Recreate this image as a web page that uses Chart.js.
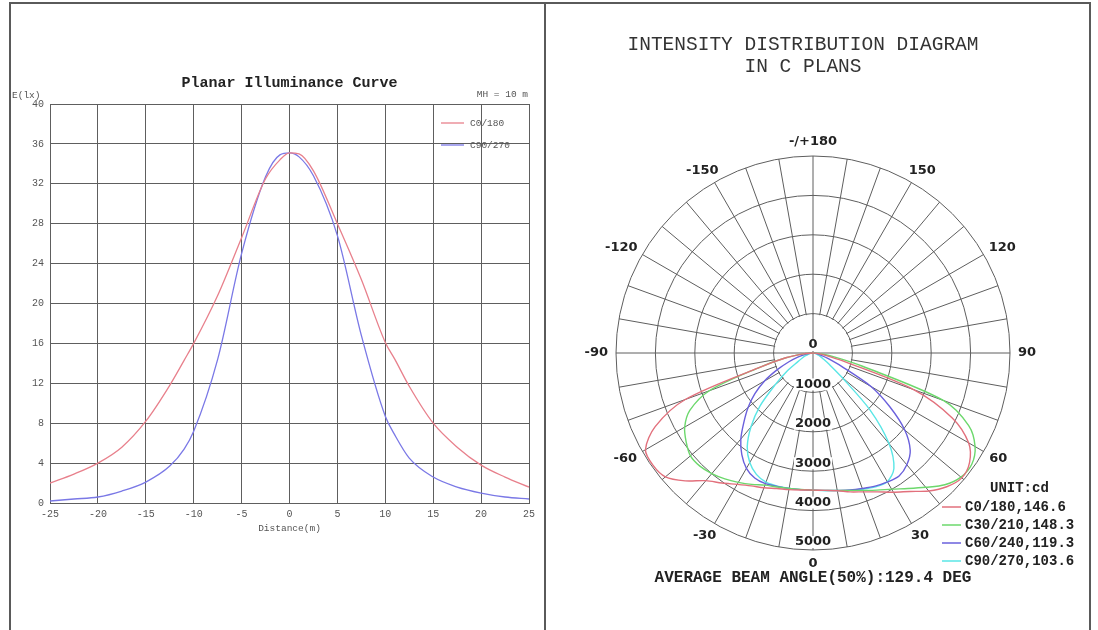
<!DOCTYPE html>
<html>
<head>
<meta charset="utf-8">
<title>Photometric curves</title>
<script src="https://cdn.jsdelivr.net/npm/chart.js@4.4.1/dist/chart.umd.min.js"></script>
<style>
  html, body { margin: 0; padding: 0; background: #fff; }
  #page { position: relative; width: 1098px; height: 630px; overflow: hidden; background: #fff; }
  canvas { position: absolute; top: 0; }
  #illum { left: 0; width: 548px; height: 630px; }
  #polar { left: 548px; width: 542px; height: 630px; }
  .frame { position: absolute; background: #5a5a5a; }
</style>
</head>
<body>
<div id="page">
  <canvas id="illum" width="548" height="630"></canvas>
  <canvas id="polar" width="542" height="630"></canvas>
  <div class="frame" style="left:9px;top:2px;width:1082px;height:2px"></div>
  <div class="frame" style="left:9px;top:2px;width:2px;height:640px"></div>
  <div class="frame" style="left:544px;top:2px;width:2px;height:640px"></div>
  <div class="frame" style="left:1089px;top:2px;width:2px;height:640px"></div>
</div>
<script>
// ---- Planar illuminance curve (E in lx against distance in m) ----
const distances = [-25, -22.5, -20, -17.5, -15, -12.5, -11, -10, -7.5, -5, -2.5, -1, 0, 1, 2.5, 5, 7.5, 10, 11, 12.5, 15, 17.5, 20, 22.5, 25];
const luxC0180 = [2.0, 2.9, 4.0, 5.6, 8.2, 11.8, 14.3, 16.0, 20.8, 26.6, 32.5, 34.4, 35.1, 35.0, 33.3, 28.0, 22.4, 16.1, 14.4, 11.7, 8.0, 5.6, 3.8, 2.6, 1.6];
const luxC90270 = [0.2, 0.4, 0.6, 1.2, 2.1, 3.7, 5.4, 7.2, 14.4, 25.0, 32.7, 34.9, 35.1, 34.7, 32.8, 26.8, 16.8, 8.7, 6.8, 4.5, 2.6, 1.6, 1.0, 0.6, 0.4];
const illumLabels = ['C0/180', 'C90/270'];
const illumColors = ['#e8808c', '#7a78e6'];

// ---- Intensity distribution in C planes (cd), gamma 0..90 step 5 ----
const gammaAngles = [0, 5, 10, 15, 20, 25, 30, 35, 40, 45, 50, 55, 60, 65, 70, 75, 80, 85, 90];
const c0   = [3480, 3500, 3550, 3650, 3750, 3890, 4080, 4290, 4570, 4800, 4930, 4850, 4560, 3900, 2730, 800, 300, 100, 0];
const c180 = [3470, 3490, 3520, 3560, 3640, 3720, 3850, 4030, 4230, 4590, 4890, 4960, 4910, 4420, 3450, 1400, 700, 250, 0];
const c30  = [3480, 3500, 3540, 3610, 3710, 3840, 3990, 4200, 4450, 4730, 4900, 4920, 4750, 4360, 3520, 1300, 500, 150, 0];
const c210 = [3470, 3475, 3490, 3520, 3570, 3680, 3790, 3900, 3995, 4060, 4060, 3930, 3760, 3450, 2800, 1400, 700, 250, 0];
const c60  = [3480, 3500, 3540, 3600, 3660, 3730, 3780, 3810, 3705, 3490, 3040, 2380, 1700, 800, 400, 200, 100, 50, 0];
const c240 = [3470, 3480, 3490, 3505, 3530, 3500, 3380, 3150, 2850, 2480, 2150, 1800, 1420, 1000, 650, 400, 200, 80, 0];
const c90  = [3480, 3510, 3550, 3610, 3680, 3750, 3770, 3580, 3000, 2050, 950, 500, 300, 200, 120, 80, 50, 20, 0];
const c270 = [3470, 3480, 3490, 3500, 3490, 3400, 3210, 2910, 2450, 1900, 1250, 800, 450, 300, 200, 120, 80, 30, 0];
const planeNames = ['C0/180', 'C30/210', 'C60/240', 'C90/270'];
const beamAngles = [146.6, 148.3, 119.3, 103.6];
const planeColors = ['#e2707c', '#6cd86c', '#6a60dc', '#5ae6e6'];
const ringValues = [0, 1000, 2000, 3000, 4000, 5000];
const angleLabels = [0, 30, 60, 90, 120, 150, 180, -150, -120, -90, -60, -30];

const MONO = '"Liberation Mono", "DejaVu Sans Mono", monospace';
const SANS = '"DejaVu Sans", sans-serif';
const GRID = '#5e5e5e';

// text around the illuminance plot
const illumText = {
    id: 'illumText',
    afterDraw(chart) {
        const ctx = chart.ctx;
        const area = chart.chartArea;
        const mid = (area.left + area.right) / 2;
        ctx.save();
        ctx.textBaseline = 'middle';
        ctx.fillStyle = '#222';
        ctx.textAlign = 'center';
        ctx.font = 'bold 15px ' + MONO;
        ctx.fillText('Planar Illuminance Curve', mid, 83);
        ctx.fillStyle = '#555';
        ctx.font = '9.5px ' + MONO;
        ctx.fillText('Distance(m)', mid, 528);
        ctx.textAlign = 'left';
        ctx.fillText('E(lx)', 12, 95);
        ctx.textAlign = 'right';
        ctx.fillText('MH = 10 m', area.right - 1, 94);

        // legend inside the plot
        ctx.textAlign = 'left';
        chart.data.datasets.forEach((ds, i) => {
            const y = area.top + 19 + i * 22;
            ctx.strokeStyle = ds.borderColor;
            ctx.lineWidth = 1.3;
            ctx.beginPath();
            ctx.moveTo(area.right - 88, y);
            ctx.lineTo(area.right - 65, y);
            ctx.stroke();
            ctx.fillStyle = '#555';
            ctx.fillText(ds.label, area.right - 59, y);
        });
        ctx.restore();
    }
};

new Chart(document.getElementById('illum'), {
    type: 'line',
    data: {
        datasets: [luxC0180, luxC90270].map((vals, i) => ({
            label: illumLabels[i],
            data: distances.map((d, k) => ({ x: d, y: vals[k] })),
            borderColor: illumColors[i],
            borderWidth: 1.3,
            pointRadius: 0,
            cubicInterpolationMode: 'monotone'
        }))
    },
    options: {
        responsive: false,
        animation: false,
        layout: { padding: { left: 10, top: 104, right: 19, bottom: 107 } },
        plugins: { legend: { display: false }, tooltip: { enabled: false } },
        scales: {
            x: {
                type: 'linear',
                min: -25,
                max: 25,
                ticks: { stepSize: 5, color: '#555', font: { family: MONO, size: 10 }, padding: 5, maxRotation: 0 },
                grid: { color: GRID, drawTicks: false },
                border: { color: GRID },
                afterFit: s => { s.height = 20; }
            },
            y: {
                min: 0,
                max: 40,
                ticks: { stepSize: 4, color: '#555', font: { family: MONO, size: 10 }, padding: 6 },
                grid: { color: GRID, drawTicks: false },
                border: { color: GRID },
                afterFit: s => { s.width = 40; }
            }
        }
    },
    plugins: [illumText]
});

// radar labels: index 0 at the bottom (gamma 0), going clockwise through -90 to 180
const radarGamma = [];
for (let i = 0; i < 72; i++) radarGamma.push(i <= 36 ? -5 * i : 360 - 5 * i);

function planeSeries(right, left) {
    return radarGamma.map(g => {
        const k = gammaAngles.indexOf(Math.abs(g));
        if (k < 0) return 0;
        return g >= 0 ? right[k] : left[k];
    });
}

const planes = [[c0, c180], [c30, c210], [c60, c240], [c90, c270]];

const polarDecor = {
    id: 'polarDecor',
    beforeDatasetsDraw(chart) {
        const s = chart.scales.r;
        const ctx = chart.ctx;
        const xc = s.xCenter, yc = s.yCenter;
        const r1 = s.getDistanceFromCenterForValue(ringValues[1]);
        ctx.save();
        // clear the spokes inside the first ring, keep both axes
        ctx.fillStyle = '#fff';
        ctx.beginPath();
        ctx.arc(xc, yc, r1 - 0.8, 0, Math.PI * 2);
        ctx.fill();
        ctx.strokeStyle = GRID;
        ctx.lineWidth = 1;
        ctx.beginPath();
        ctx.moveTo(xc - r1, yc); ctx.lineTo(xc + r1, yc);
        ctx.moveTo(xc, yc - r1); ctx.lineTo(xc, yc + r1);
        ctx.stroke();
        // ring values down the 0 axis
        ctx.font = 'bold 13px ' + SANS;
        ctx.textAlign = 'center';
        ctx.textBaseline = 'middle';
        ringValues.forEach(v => {
            const t = String(v);
            const y = yc + s.getDistanceFromCenterForValue(v) - 8;
            const w = ctx.measureText(t).width;
            ctx.fillStyle = '#fff';
            ctx.fillRect(xc - w / 2 - 1, y - 6, w + 2, 12);
            ctx.fillStyle = '#222';
            ctx.fillText(t, xc, y);
        });
        ctx.restore();
    },
    afterDraw(chart) {
        const s = chart.scales.r;
        const ctx = chart.ctx;
        const xc = s.xCenter;
        ctx.save();
        ctx.textBaseline = 'middle';
        ctx.fillStyle = '#333';
        ctx.textAlign = 'center';
        ctx.font = '19.5px ' + MONO;
        ctx.fillText('INTENSITY DISTRIBUTION DIAGRAM', 255, 45);
        ctx.fillText('IN C PLANS', 255, 67);

        // gamma labels every 30 degrees
        ctx.fillStyle = '#222';
        ctx.font = 'bold 13px ' + SANS;
        angleLabels.forEach(g => {
            const idx = g <= 0 ? -g / 5 : 72 - g / 5;
            const t = g === 180 ? '-/+180' : String(g);
            const a = s.getIndexAngle(idx) - Math.PI / 2;
            const p = s.getPointPosition(idx, s.drawingArea + 8);
            const w = ctx.measureText(t).width;
            ctx.fillText(t, p.x + Math.cos(a) * w / 2, p.y + Math.sin(a) * 6);
        });

        // legend
        ctx.textAlign = 'left';
        ctx.font = 'bold 14px ' + MONO;
        ctx.fillText('UNIT:cd', 442, 488);
        planeNames.forEach((n, i) => {
            const y = 507 + i * 18;
            ctx.strokeStyle = planeColors[i];
            ctx.lineWidth = 1.5;
            ctx.beginPath();
            ctx.moveTo(394, y);
            ctx.lineTo(413, y);
            ctx.stroke();
            ctx.fillText(n + ',' + beamAngles[i].toFixed(1), 417, y);
        });

        ctx.textAlign = 'center';
        ctx.font = 'bold 16px ' + MONO;
        ctx.fillText('AVERAGE BEAM ANGLE(50%):129.4 DEG', xc, 578);
        ctx.restore();
    }
};

new Chart(document.getElementById('polar'), {
    type: 'radar',
    data: {
        labels: radarGamma.map(String),
        datasets: planes.map((p, i) => ({
            label: planeNames[i],
            data: planeSeries(p[0], p[1]),
            borderColor: planeColors[i],
            borderWidth: 1.4,
            fill: false,
            tension: 0.3,
            pointRadius: 0
        }))
    },
    options: {
        responsive: false,
        animation: false,
        layout: { padding: { left: 68, right: 80, top: 156, bottom: 80 } },
        plugins: { legend: { display: false }, tooltip: { enabled: false } },
        scales: {
            r: {
                min: 0,
                max: 5000,
                startAngle: 180,
                ticks: { display: false, stepSize: 1000 },
                pointLabels: { display: false },
                grid: { circular: true, color: GRID },
                angleLines: { color: c => (c.index % 2 === 0 ? GRID : null), lineWidth: 1 }
            }
        }
    },
    plugins: [polarDecor]
});
</script>
</body>
</html>
